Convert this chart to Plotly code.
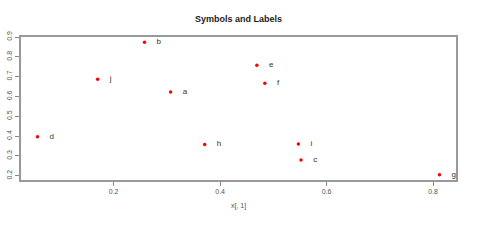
import plotly.graph_objects as go

labels = ["a", "b", "c", "d", "e", "f", "g", "h", "i", "j"]
x_vals = [0.307, 0.258, 0.552, 0.057, 0.469, 0.484, 0.812, 0.371, 0.547, 0.170]
y_vals = [0.622, 0.873, 0.279, 0.397, 0.757, 0.667, 0.205, 0.358, 0.360, 0.687]
x_ticks = [0.2, 0.4, 0.6, 0.8]
y_ticks = [0.2, 0.3, 0.4, 0.5, 0.6, 0.7, 0.8, 0.9]

fig = go.Figure()
fig.add_trace(go.Scatter(
    x=x_vals, y=y_vals, mode="markers+text",
    text=["\u00a0\u00a0\u00a0\u00a0" + l for l in labels],
    textposition="middle right",
    textfont=dict(family="Liberation Sans, Arial", size=8, color="#333333"),
    marker=dict(color="red", size=3.5, symbol="circle"),
    cliponaxis=True, showlegend=False,
))

axis_common = dict(
    showgrid=False, zeroline=False, showline=True, mirror=True,
    linecolor="#999999", linewidth=1.5, automargin=False,
    ticks="outside", ticklen=4, tickcolor="#888888",
    tickfont=dict(family="Liberation Sans, Arial", size=7, color="#555555"),
)

fig.update_layout(
    width=500, height=249,
    margin=dict(l=21, r=44, t=37, b=69),
    paper_bgcolor="white", plot_bgcolor="white",
    title=dict(text="<b>Symbols and Labels</b>", x=0.477, xanchor="center",
               y=0.925, yanchor="middle",
               font=dict(family="Liberation Sans, Arial", size=9, color="#222222")),
    xaxis=dict(range=[0.026, 0.843], tickvals=x_ticks,
               ticktext=[f"{v:.1f}" for v in x_ticks],
               title=dict(text="x[, 1]", standoff=9,
                          font=dict(family="Liberation Sans, Arial", size=7, color="#555555")),
               **axis_common),
    yaxis=dict(range=[0.1785, 0.9], tickvals=y_ticks,
               ticktext=[f"{v:.1f}" for v in y_ticks], tickangle=-90,
               **axis_common),
)

fig.write_html("out.html")
